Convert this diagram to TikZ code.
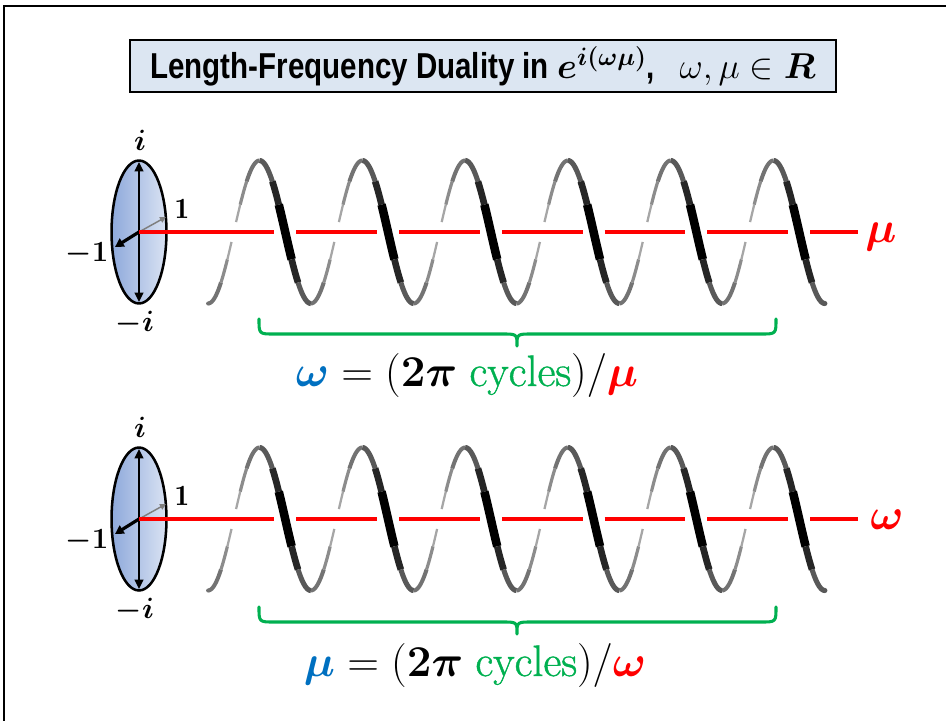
\RequirePackage{fix-cm}
\documentclass[tikz,border=0pt]{standalone}
\usepackage{fontspec}
\usepackage{bm}
\usetikzlibrary{arrows.meta}
\newfontfamily\titlefont[FakeStretch=0.82]{Liberation Sans}
\newfontfamily\cyclefont[FakeBold=1]{Latin Modern Roman}
\definecolor{mblue}{HTML}{0070C0}
\definecolor{mgreen}{HTML}{00B050}
\definecolor{mred}{HTML}{FF0000}
\definecolor{elL}{HTML}{8EA9DB}
\definecolor{elR}{HTML}{DAE3F3}
\definecolor{tbox}{HTML}{DCE6F2}
\definecolor{hA}{HTML}{000000}
\definecolor{hB}{HTML}{262626}
\definecolor{hC}{HTML}{595959}
\definecolor{hD}{HTML}{737373}
\definecolor{hE}{HTML}{8C8C8C}
\definecolor{hF}{HTML}{A6A6A6}
\definecolor{arrgray}{HTML}{7F7F7F}
\tikzset{
  axisline/.style={mred,line width=2.4pt},
  bracestyle/.style={mgreen,line width=2.3pt,line cap=round,line join=round},
  smalllbl/.style={inner sep=0pt,font=\fontsize{22}{24}\selectfont},
  biglbl/.style={inner sep=0pt,font=\fontsize{33}{36}\selectfont},
  ellipseout/.style={line width=1.9pt},
}
% helix segment: #1 domain (relative phase), #2 colour, #3 width
\newcommand{\hseg}[3]{\draw[#2,line width=#3] plot[domain=#1,samples=12,smooth,variable=\t] ({259.5+0.285556*(\t+\hb)},{\hy-71.5*cos(\t)});}
\newcommand{\helixback}{%
  \foreach \hb in {0,360,...,1800}{%
    \hseg{-180:-135}{hD}{3pt}
    \hseg{-135:-112.5}{hE}{2.4pt}
    \hseg{-112.5:-98}{hF}{1.7pt}
    \hseg{-82:-67.5}{hF}{1.7pt}
    \hseg{-67.5:-45}{hE}{2.4pt}
    \hseg{-45:0}{hD}{3pt}
  }%
  \fill[hD] (208.1,\hy+71.5) circle[radius=1.5pt];
}
\newcommand{\helixfront}{%
  \foreach \hb in {0,360,...,1800}{%
    \hseg{0:45}{hC}{3.8pt}
    \hseg{45:67.5}{hB}{5pt}
    \hseg{67.5:112.5}{hA}{6.4pt}
    \hseg{112.5:135}{hB}{5pt}
    \hseg{135:180}{hC}{3.8pt}
  }%
  \fill[hC] (824.9,\hy+71.5) circle[radius=1.9pt];
}
% one row: #1 centre y, #2 name suffix
\newcommand{\drawrow}[2]{%
  \def\hy{#1}
  \coordinate (c#2) at (139,#1);
  \coordinate (top#2) at (139,#1-70);
  \coordinate (bot#2) at (139,#1+70);
  \coordinate (neg#2) at (115,#1+15);
  \coordinate (pos#2) at (166,#1-15);
  \shade[left color=elL,right color=elR] (c#2) ellipse [x radius=20.6pt,y radius=53.6pt];
  \draw[ellipseout] (c#2) ellipse [x radius=20.6pt,y radius=53.6pt];
  \draw[line width=1.3pt,{Triangle[length=7pt,width=6.5pt]}-{Triangle[length=7pt,width=6.5pt]}] (top#2) -- (bot#2);
  \draw[arrgray,line width=1.1pt,-{Triangle[length=4.5pt,width=4.5pt]}] (c#2) -- (pos#2);
  \draw[line width=2.4pt,-{Triangle[length=6.5pt,width=7pt]}] (c#2) -- (neg#2);
  \helixback
  \draw[axisline] (c#2) -- (274.2,#1);
  \foreach \a/\b in {296.2/377,399/479.8,501.8/582.6,604.6/685.4,707.4/788.2}{\draw[axisline] (\a,#1) -- (\b,#1);}
  \coordinate (axend#2) at (858,#1);
  \draw[axisline] (810.2,#1) -- (axend#2);
  \helixfront
  \node[smalllbl] (i#2) at (140,#1-92) {$\bm{i}$};
  \node[smalllbl] (one#2) at (182,#1-23) {$\mathbf{1}$};
  \node[smalllbl] (mone#2) at (87,#1+22) {$\bm{-1}$};
  \node[smalllbl] (mi#2) at (135,#1+91) {$\bm{-i}$};
}
% brace: #1 y of the ends
\newcommand{\drawbrace}[1]{%
  \draw[bracestyle] (259,#1) .. controls (259,#1+15) .. (274,#1+15) -- (502,#1+15)
    .. controls (517,#1+15) .. (517,#1+27) .. controls (517,#1+15) .. (532,#1+15)
    -- (761,#1+15) .. controls (776,#1+15) .. (776,#1);
}
\begin{document}
\begin{tikzpicture}[x=0.75pt,y=-0.75pt]
\useasboundingbox (0,0) rectangle (946,721);
\coordinate (frTR) at (946,6);
\coordinate (frTL) at (4,6);
\coordinate (frBL) at (4,721);
\draw[line width=1.6pt] (frTR) -- (frTL) -- (frBL);
\node[draw,line width=1.5pt,fill=tbox,minimum width=529.5pt,minimum height=39pt,inner sep=0pt] (title) at (483,66)
  {\titlefont\fontsize{27}{30}\selectfont\bfseries Length-Frequency Duality in $\bm{e^{i(\omega\mu)}}$,\ \ \ $\omega,\mu\in\bm{R}$};
\drawrow{232}{A}
\drawrow{519}{B}
\node[biglbl,text=mred] (muR) at (881,237) {$\bm{\mu}$};
\node[biglbl,text=mred] (omR) at (887,520) {$\bm{\omega}$};
\drawbrace{319}
\drawbrace{607}
\node[biglbl] (f1) at (467,375) {${\color{mblue}\bm{\omega}} = (\bm{2\pi}\;\mbox{\cyclefont\color{mgreen}cycles})/{\color{mred}\bm{\mu}}$};
\node[biglbl] (f2) at (475,665) {${\color{mblue}\bm{\mu}} = (\bm{2\pi}\;\mbox{\cyclefont\color{mgreen}cycles})/{\color{mred}\bm{\omega}}$};
\end{tikzpicture}
\end{document}
